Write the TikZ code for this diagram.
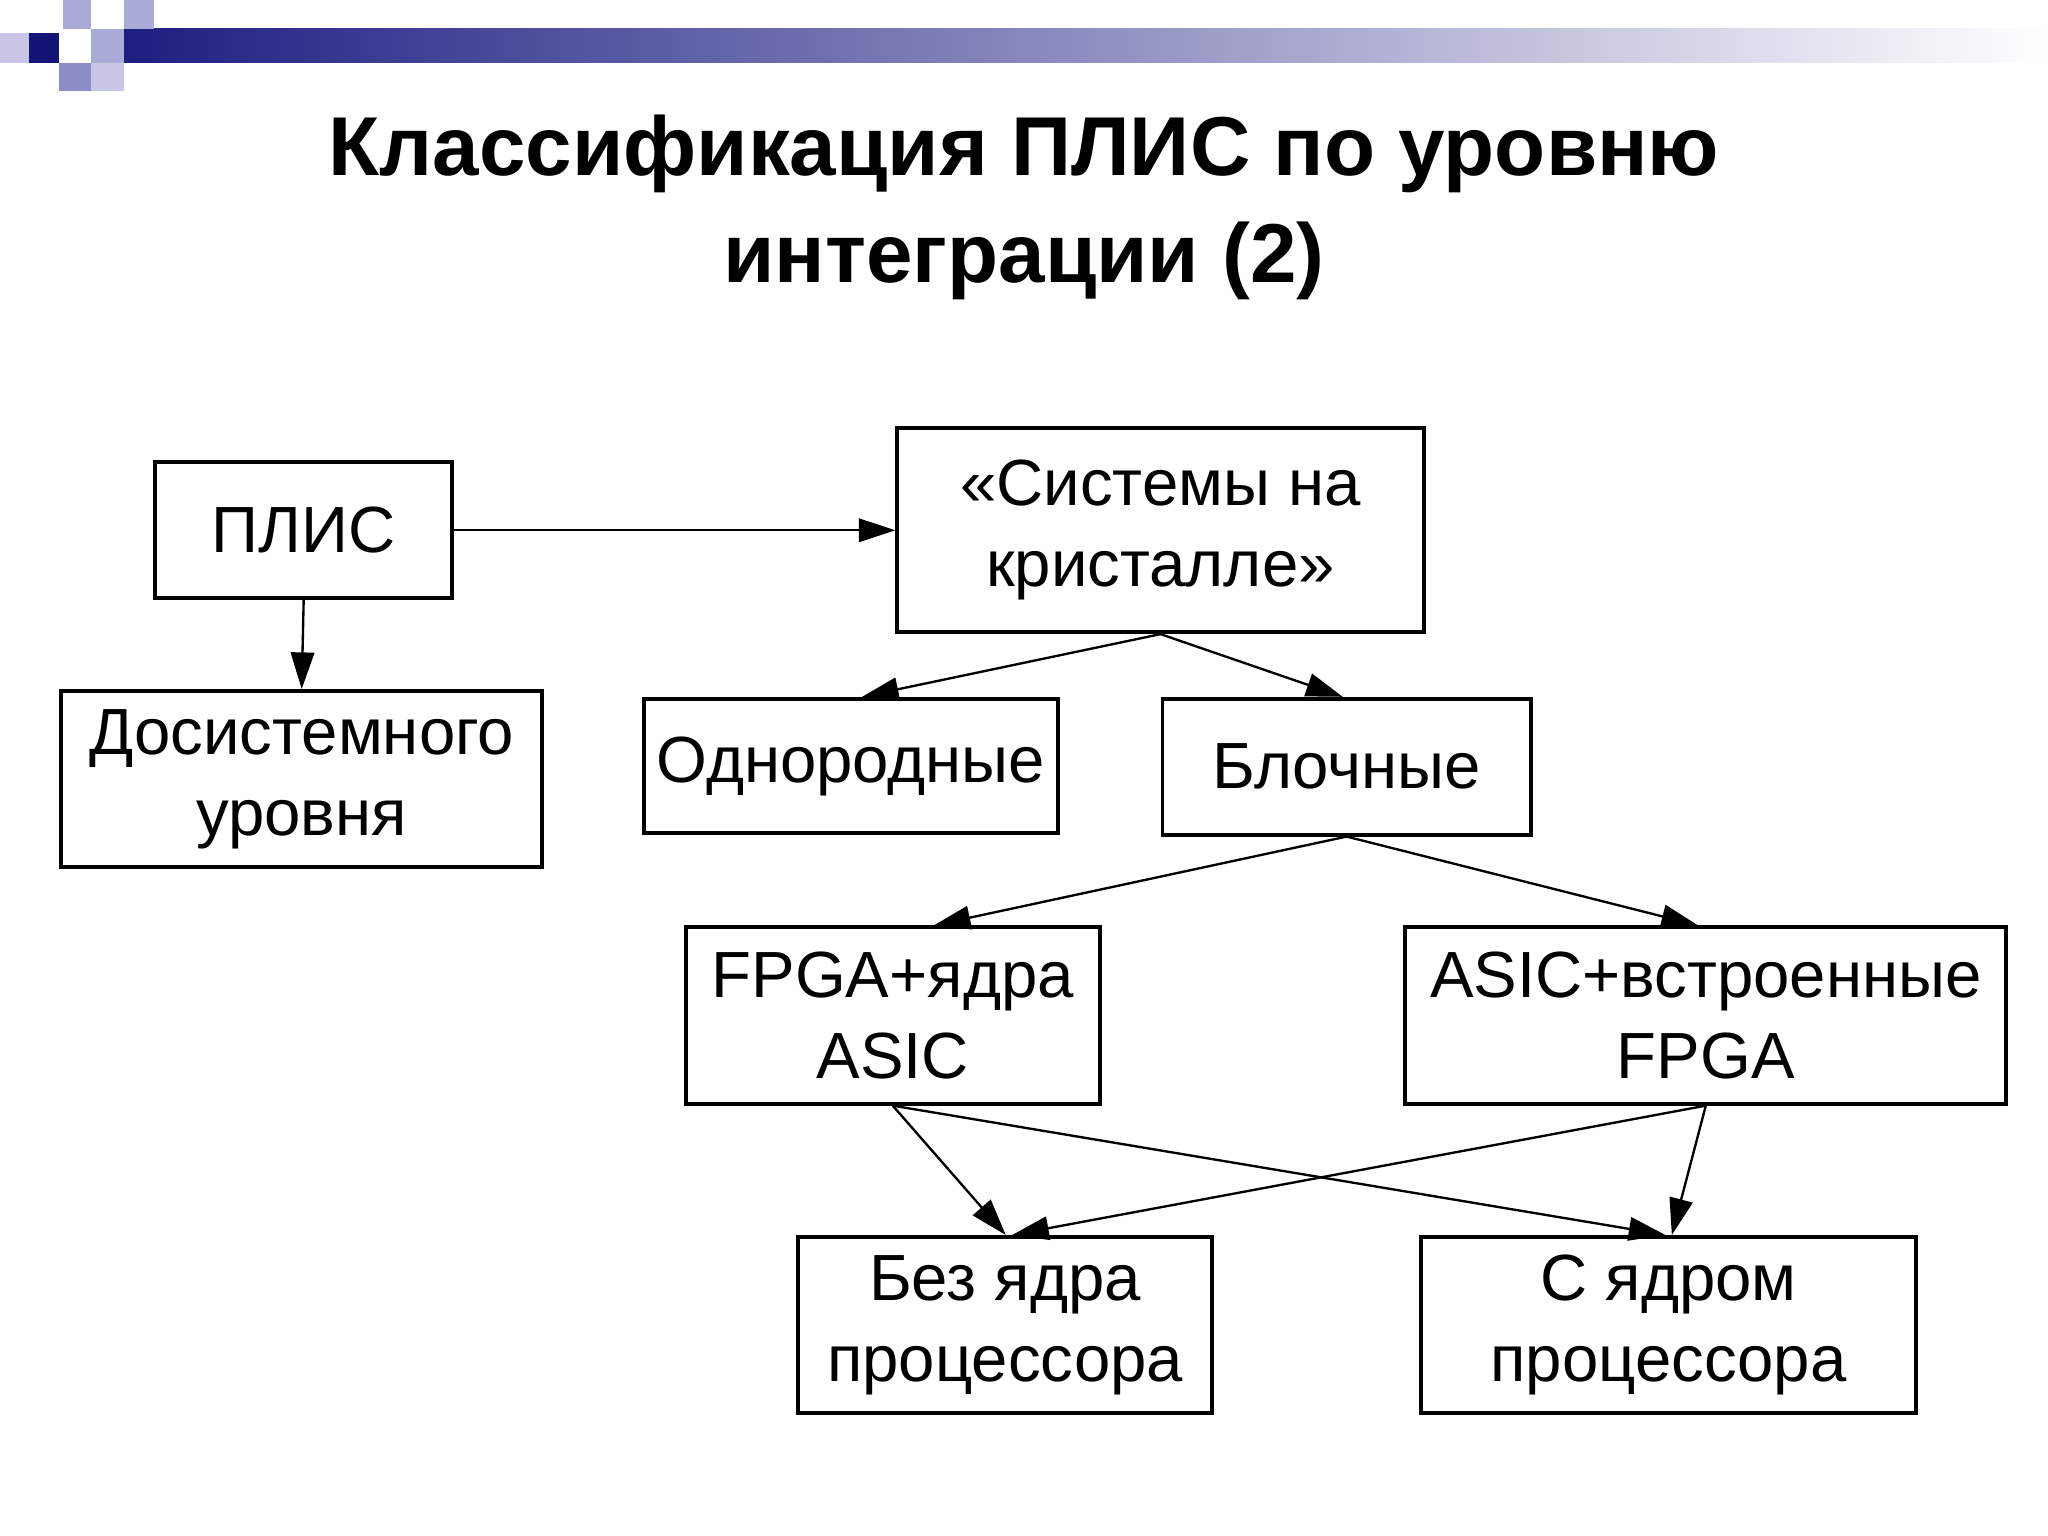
\documentclass[tikz,border=0pt]{standalone}
\usepackage{fontspec}
\setmainfont{Liberation Sans}
\usetikzlibrary{arrows.meta}
\definecolor{navy}{RGB}{20,20,120}
\definecolor{barl}{RGB}{30,30,130}
\definecolor{sqa}{RGB}{170,170,215}
\definecolor{sqb}{RGB}{200,200,230}
\definecolor{sqc}{RGB}{140,140,200}
\begin{document}
\begin{tikzpicture}[x=0.5pt,y=-0.5pt,
 box/.style={draw,line width=1.5pt,inner sep=0pt,font=\fontsize{25}{31}\selectfont,align=center},
 arr/.style={line width=0.9pt,-{Triangle[length=14pt,width=9pt]}}]
\useasboundingbox (0,0) rectangle (1568,1176);
\fill[white] (0,0) rectangle (1568,1176);
\shade[left color=barl, right color=white] (95,22) rectangle (1568,48);
\fill[sqa] (48,0) rectangle (70,22);
\fill[sqb] (0,25) rectangle (22,48);
\fill[navy] (22,25) rectangle (45,48);
\fill[sqa] (70,22) rectangle (95,48);
\fill[sqc] (45,48) rectangle (70,70);
\fill[sqb] (70,48) rectangle (95,70);
\fill[sqa] (95,0) rectangle (118,22);
\node[font=\fontsize{32}{40}\selectfont\bfseries] (t1) at (784,118) {Классификация ПЛИС по уровню};
\node[font=\fontsize{32}{40}\selectfont\bfseries] (t2) at (784,200) {интеграции (2)};
\node[box,minimum width=113.5pt,minimum height=52pt] (plis) at (232.5,406) {ПЛИС};
\node[box,minimum width=201.5pt,minimum height=78pt] (soc) at (888.5,406) {«Системы на\\кристалле»};
\node[box,minimum width=184pt,minimum height=67.5pt] (dos) at (231,596.5) {Досистемного\\уровня};
\node[box,minimum width=158.5pt,minimum height=51.5pt] (odn) at (651.5,586.5) {Однородные};
\node[box,minimum width=141pt,minimum height=52pt] (blk) at (1031,587) {Блочные};
\node[box,minimum width=158.5pt,minimum height=67.5pt] (fpga) at (683.5,777.5) {FPGA+ядра\\ASIC};
\node[box,minimum width=230pt,minimum height=67.5pt] (asic) at (1306,777.5) {ASIC+встроенные\\FPGA};
\node[box,minimum width=158.5pt,minimum height=67.5pt] (bez) at (769.5,1014.5) {Без ядра\\процессора};
\node[box,minimum width=189.5pt,minimum height=67.5pt] (sya) at (1277.5,1014.5) {С ядром\\процессора};
\draw[arr] (plis.east) -- (soc.west);
\draw[arr] (plis.south) -- (dos.north);
\draw[arr] (soc.south) -- (odn.north -| 660,0);
\draw[arr] (soc.south) -- (blk.north -| 1028,0);
\draw[arr] (blk.south) -- (fpga.north -| 715,0);
\draw[arr] (blk.south) -- (asic.north -| 1300,0);
\draw[arr] (fpga.south) -- (bez.north -| 770,0);
\draw[arr] (fpga.south) -- (sya.north -| 1275,0);
\draw[arr] (asic.south) -- (bez.north -| 775,0);
\draw[arr] (asic.south) -- (sya.north -| 1280,0);
\end{tikzpicture}
\end{document}
